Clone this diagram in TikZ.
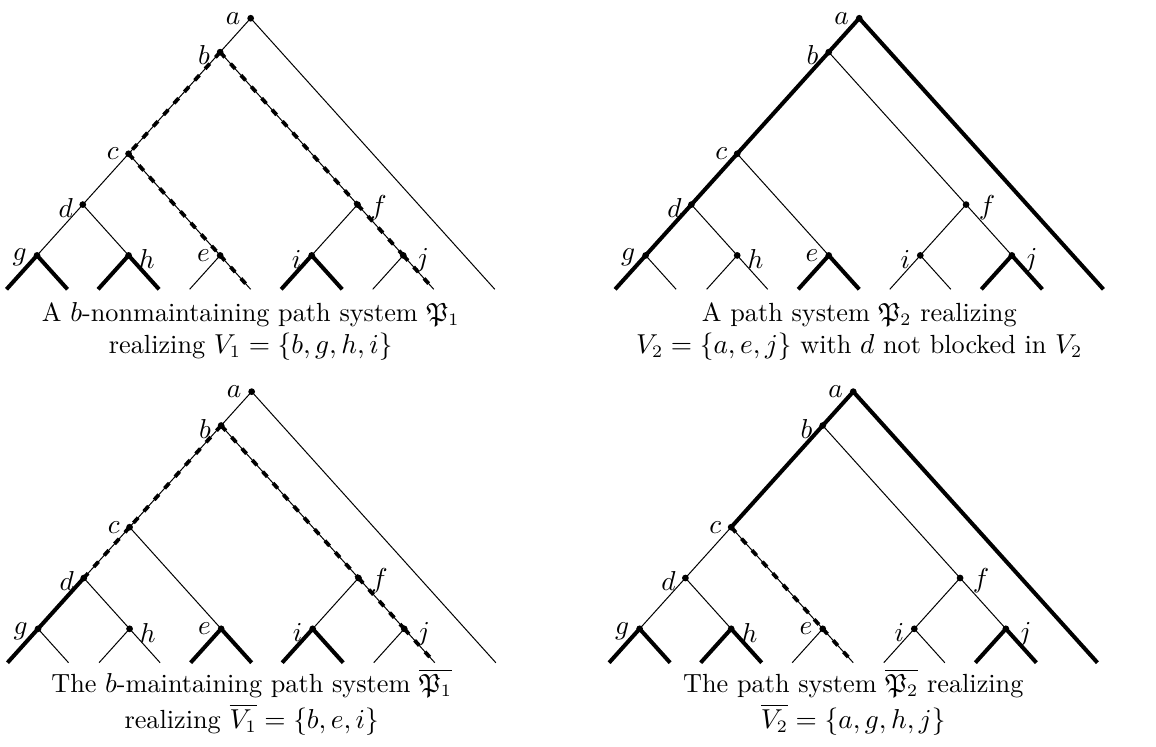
\documentclass[tikz,border=0pt]{standalone}
\usepackage{amssymb}
\tikzset{
  thn/.style={line width=0.4pt},
  thk/.style={line width=1.6pt},
  dsh/.style={line width=0.4pt, postaction={draw, line width=1.5pt, dash pattern=on 2.8pt off 3.4pt}},
  vdot/.style={circle, fill, inner sep=0pt, minimum size=2.7pt},
  lbl/.style={inner sep=0pt, font=\fontsize{11}{13}\selectfont},
  captxt/.style={anchor=base, inner sep=0pt, font=\fontsize{10.5}{12.8}\selectfont},
  treeunits/.style={x=6.104pt, y=6.776pt}
}
\newcommand\treecoords[1]{%
  \coordinate (#1a) at (16,16);
  \coordinate (#1b) at (14,14);
  \coordinate (#1c) at (8,8);
  \coordinate (#1d) at (5,5);
  \coordinate (#1f) at (23,5);
  \coordinate (#1g) at (2,2);
  \coordinate (#1h) at (8,2);
  \coordinate (#1e) at (14,2);
  \coordinate (#1i) at (20,2);
  \coordinate (#1j) at (26,2);
  \coordinate (#1g0) at (0,0);  \coordinate (#1g1) at (4,0);
  \coordinate (#1h0) at (6,0);  \coordinate (#1h1) at (10,0);
  \coordinate (#1e0) at (12,0); \coordinate (#1e1) at (16,0);
  \coordinate (#1i0) at (18,0); \coordinate (#1i1) at (22,0);
  \coordinate (#1j0) at (24,0); \coordinate (#1j1) at (28,0);
  \coordinate (#1k) at (32,0);
}
\newcommand\treeedges[2]{\foreach \u/\v/\s in {#2} {\draw[\s] (#1\u) -- (#1\v);}}
\newcommand\treedots[1]{%
  \node[vdot,label={[lbl,label distance=2.4pt]180:$a$}] (#1adot) at (#1a) {};
  \node[vdot,label={[lbl,label distance=2.4pt,yshift=-1.2pt]180:$b$}] (#1bdot) at (#1b) {};
  \node[vdot,label={[lbl,label distance=2.2pt]180:$c$}] (#1cdot) at (#1c) {};
  \node[vdot,label={[lbl,label distance=2.2pt,yshift=-1.2pt]180:$d$}] (#1ddot) at (#1d) {};
  \node[vdot,label={[lbl,label distance=2.4pt,yshift=-0.8pt]180:$g$}] (#1gdot) at (#1g) {};
  \node[vdot,label={[lbl,label distance=2.4pt,yshift=-1.5pt]0:$h$}] (#1hdot) at (#1h) {};
  \node[vdot,label={[lbl,label distance=2.4pt]180:$e$}] (#1edot) at (#1e) {};
  \node[vdot,label={[lbl,label distance=2.4pt,yshift=-1.5pt]180:$i$}] (#1idot) at (#1i) {};
  \node[vdot,label={[lbl,label distance=3.4pt,yshift=-1.2pt]0:$f$}] (#1fdot) at (#1f) {};
  \node[vdot,label={[lbl,label distance=3.4pt,yshift=-2pt]0:$j$}] (#1jdot) at (#1j) {};
}
\begin{document}
\begin{tikzpicture}[x=0.4pt, y=-0.4pt]
\useasboundingbox (0,0) rectangle (1156,747);

% tree 1 (top left)
\begin{scope}[shift={(6.5,289.3)}, treeunits]
\treecoords{P}
\treeedges{P}{a/b/thn, a/k/thn, b/c/dsh, b/f/dsh, c/d/thn, c/e/dsh, d/g/thn, d/h/thn, g/g0/thk, g/g1/thk, h/h0/thk, h/h1/thk, e/e0/thn, e/e1/dsh, f/i/thn, f/j/dsh, i/i0/thk, i/i1/thk, j/j0/thn, j/j1/dsh}
\treedots{P}
\end{scope}

% tree 2 (top right)
\begin{scope}[shift={(615.1,289.3)}, treeunits]
\treecoords{Q}
\treeedges{Q}{a/b/thk, a/k/thk, b/c/thk, b/f/thn, c/d/thk, c/e/thn, d/g/thk, d/h/thn, g/g0/thk, g/g1/thn, h/h0/thn, h/h1/thn, e/e0/thk, e/e1/thk, f/i/thn, f/j/thn, i/i0/thn, i/i1/thn, j/j0/thk, j/j1/thk}
\treedots{Q}
\end{scope}

% tree 3 (bottom left)
\begin{scope}[shift={(7.5,662.7)}, treeunits]
\treecoords{R}
\treeedges{R}{a/b/thn, a/k/thn, b/c/dsh, b/f/dsh, c/d/dsh, c/e/thn, d/g/thk, d/h/thn, g/g0/thk, g/g1/thn, h/h0/thn, h/h1/thn, e/e0/thk, e/e1/thk, f/i/thn, f/j/dsh, i/i0/thk, i/i1/thk, j/j0/thn, j/j1/dsh}
\treedots{R}
\end{scope}

% tree 4 (bottom right)
\begin{scope}[shift={(609.1,662.7)}, treeunits]
\treecoords{S}
\treeedges{S}{a/b/thk, a/k/thk, b/c/thk, b/f/thn, c/d/thn, c/e/dsh, d/g/thn, d/h/thn, g/g0/thk, g/g1/thk, h/h0/thk, h/h1/thk, e/e0/thn, e/e1/dsh, f/i/thn, f/j/thn, i/i0/thn, i/i1/thn, j/j0/thk, j/j1/thk}
\treedots{S}
\end{scope}

% captions
\node[captxt] (P1) at (250.7,321) {A $b$-nonmaintaining path system $\mathfrak{P}_1$};
\node[captxt] (P2) at (250.7,353) {realizing $V_1=\{b,g,h,i\}$};
\node[captxt] (Q1) at (859.3,321) {A path system $\mathfrak{P}_2$ realizing};
\node[captxt] (Q2) at (859.3,353) {$V_2=\{a,e,j\}$ with $d$ not blocked in $V_2$};
\node[captxt] (R1) at (251.7,692) {The $b$-maintaining path system $\overline{\mathfrak{P}_1}$};
\node[captxt] (R2) at (251.7,728) {realizing $\overline{V_1}=\{b,e,i\}$};
\node[captxt] (S1) at (853.3,692) {The path system $\overline{\mathfrak{P}_2}$ realizing};
\node[captxt] (S2) at (853.3,728) {$\overline{V_2}=\{a,g,h,j\}$};
\end{tikzpicture}
\end{document}
